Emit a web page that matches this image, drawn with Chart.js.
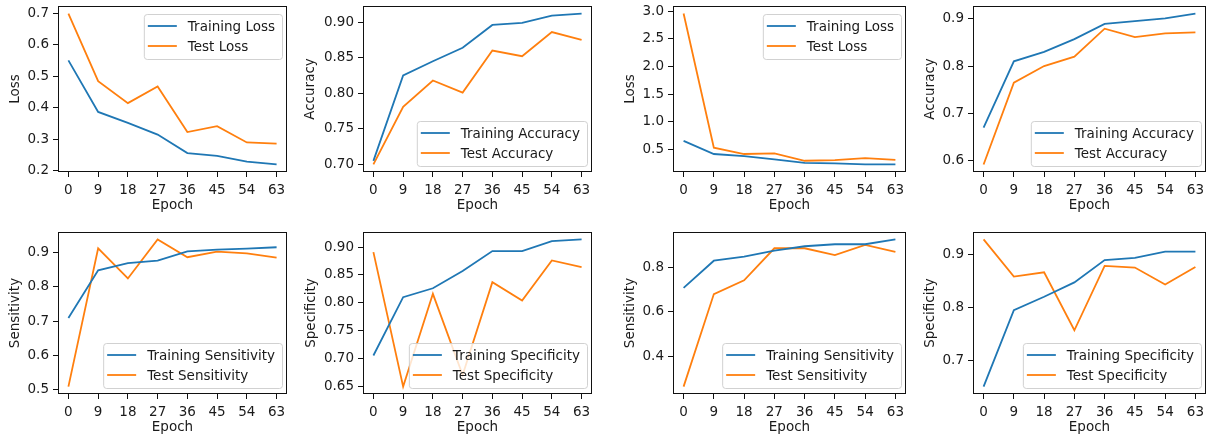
<!DOCTYPE html>
<html><head><meta charset="utf-8">
<script src="https://cdn.jsdelivr.net/npm/chart.js@4/dist/chart.umd.min.js"></script>
<style>
html,body{margin:0;padding:0;background:#fff;width:1210px;height:441px;overflow:hidden;position:relative;}
canvas{position:absolute;}
</style></head><body>
<script>
// ---------- data ----------
const epochs = [0, 9, 18, 27, 36, 45, 54, 63];
const xTickLabels = ['0', '9', '18', '27', '36', '45', '54', '63'];

// Model A
const trainLossA = [0.551, 0.387, 0.352, 0.315, 0.256, 0.247, 0.229, 0.220];
const testLossA  = [0.700, 0.485, 0.415, 0.468, 0.323, 0.342, 0.290, 0.286];
const trainAccA  = [0.705, 0.825, 0.845, 0.864, 0.896, 0.899, 0.909, 0.912];
const testAccA   = [0.700, 0.781, 0.818, 0.801, 0.860, 0.852, 0.886, 0.875];
const trainSensA = [0.709, 0.848, 0.869, 0.876, 0.903, 0.908, 0.911, 0.915];
const testSensA  = [0.509, 0.912, 0.824, 0.938, 0.886, 0.902, 0.897, 0.885];
const trainSpecA = [0.705, 0.810, 0.826, 0.857, 0.893, 0.893, 0.911, 0.914];
const testSpecA  = [0.891, 0.649, 0.816, 0.670, 0.837, 0.804, 0.876, 0.864];

// Model B
const trainLossB = [0.652, 0.415, 0.378, 0.317, 0.256, 0.244, 0.226, 0.226];
const testLossB  = [2.957, 0.530, 0.415, 0.427, 0.293, 0.305, 0.340, 0.310];
const trainAccB  = [0.670, 0.810, 0.830, 0.857, 0.889, 0.895, 0.901, 0.911];
const testAccB   = [0.592, 0.765, 0.800, 0.820, 0.879, 0.861, 0.869, 0.871];
const trainSensB = [0.707, 0.829, 0.847, 0.874, 0.894, 0.903, 0.903, 0.925];
const testSensB  = [0.263, 0.679, 0.741, 0.885, 0.885, 0.854, 0.900, 0.869];
const trainSpecB = [0.651, 0.795, 0.820, 0.847, 0.889, 0.893, 0.905, 0.905];
const testSpecB  = [0.928, 0.858, 0.866, 0.757, 0.878, 0.875, 0.843, 0.876];

// y tick labels
const ticksLossA = ['0.2', '0.3', '0.4', '0.5', '0.6', '0.7'];
const ticksAccA  = ['0.70', '0.75', '0.80', '0.85', '0.90'];
const ticksSensA = ['0.5', '0.6', '0.7', '0.8', '0.9'];
const ticksSpecA = ['0.65', '0.70', '0.75', '0.80', '0.85', '0.90'];
const ticksLossB = ['0.5', '1.0', '1.5', '2.0', '2.5', '3.0'];
const ticksAccB  = ['0.6', '0.7', '0.8', '0.9'];
const ticksSensB = ['0.4', '0.6', '0.8'];
const ticksSpecB = ['0.7', '0.8', '0.9'];

// ---------- layout / styles ----------
const BLUE = '#1f77b4', ORANGE = '#ff7f0e';
const FONT = '"DejaVu Sans", sans-serif';
const FS = 13.5;
const TXT = '#1a1a1a';

const panels = [
  {tr: trainLossA, te: testLossA, name: 'Loss', yTitle: 'Loss', ticks: ticksLossA, leg: 'top', box: {l: 58, t: 6, r: 287, b: 172}, tx: 15},
  {tr: trainAccA, te: testAccA, name: 'Accuracy', yTitle: 'Accuracy', ticks: ticksAccA, leg: 'bottom', box: {l: 363, t: 6, r: 592, b: 172}, tx: 310},
  {tr: trainLossB, te: testLossB, name: 'Loss', yTitle: 'Loss', ticks: ticksLossB, leg: 'top', box: {l: 673, t: 6, r: 906, b: 172}, tx: 630},
  {tr: trainAccB, te: testAccB, name: 'Accuracy', yTitle: 'Accuracy', ticks: ticksAccB, leg: 'bottom', box: {l: 973, t: 6, r: 1206, b: 172}, tx: 930},
  {tr: trainSensA, te: testSensA, name: 'Sensitivity', yTitle: 'Sensitivity', ticks: ticksSensA, leg: 'bottom', box: {l: 58, t: 232, r: 287, b: 394}, tx: 15},
  {tr: trainSpecA, te: testSpecA, name: 'Specificity', yTitle: 'Specificity', ticks: ticksSpecA, leg: 'bottom', box: {l: 363, t: 232, r: 592, b: 394}, tx: 311},
  {tr: trainSensB, te: testSensB, name: 'Sensitivity', yTitle: 'Sensitivity', ticks: ticksSensB, leg: 'bottom', box: {l: 673, t: 232, r: 906, b: 394}, tx: 630},
  {tr: trainSpecB, te: testSpecB, name: 'Specificity', yTitle: 'Specificity', ticks: ticksSpecB, leg: 'bottom', box: {l: 973, t: 232, r: 1206, b: 394}, tx: 930},
];

const PAD_T = 6, PAD_R = 8, XAX_H = 44, TITLE_OFF = 15;

const framePlugin = {
  id: 'frameLegend',
  afterDatasetsDraw(chart, args, opts) {
    const ctx = chart.ctx, a = chart.chartArea;
    ctx.save();
    // frame
    ctx.strokeStyle = '#111';
    ctx.lineWidth = 1;
    ctx.strokeRect(Math.round(a.left) + 0.5, Math.round(a.top) + 0.5,
                   Math.round(a.right - a.left) - 1, Math.round(a.bottom - a.top) - 1);
    // legend
    const ds = chart.data.datasets;
    ctx.font = FS + 'px ' + FONT;
    const textW = Math.max(...ds.map(d => ctx.measureText(d.label).width));
    const padL = 4, handle = 29, gap = 11, padR = 7, rowH = 20, padT = 12;
    const w = padL + handle + gap + textW + padR;
    const h = 45;
    const x = a.right - 5 - w;
    const y = opts.pos === 'top' ? a.top + 8 : a.bottom - 6 - h;
    ctx.beginPath();
    ctx.roundRect(x + 0.5, y + 0.5, w, h, 3);
    ctx.fillStyle = 'rgba(255,255,255,0.8)';
    ctx.fill();
    ctx.strokeStyle = 'rgba(204,204,204,0.9)';
    ctx.lineWidth = 1;
    ctx.stroke();
    ds.forEach((d, i) => {
      const yy = y + padT + i * rowH;
      ctx.beginPath();
      ctx.strokeStyle = d.borderColor;
      ctx.lineWidth = 1.8;
      ctx.moveTo(x + padL, yy);
      ctx.lineTo(x + padL + handle, yy);
      ctx.stroke();
      ctx.fillStyle = TXT;
      ctx.textBaseline = 'middle';
      ctx.textAlign = 'left';
      ctx.fillText(d.label, x + padL + handle + gap, yy + 1);
    });
    ctx.restore();
  }
};

panels.forEach((p) => {
  const left = p.tx - TITLE_OFF;
  const top = p.box.t - PAD_T;
  const yW = p.box.l - left;
  const width = p.box.r + PAD_R - left;
  const height = PAD_T + (p.box.b - p.box.t) + XAX_H;
  const cv = document.createElement('canvas');
  cv.width = width; cv.height = height;
  cv.style.left = left + 'px'; cv.style.top = top + 'px';
  cv.style.width = width + 'px'; cv.style.height = height + 'px';
  document.body.appendChild(cv);

  const all = p.tr.concat(p.te);
  const dmin = Math.min(...all), dmax = Math.max(...all);
  const m = (dmax - dmin) * 0.05;
  const xr = (epochs[epochs.length - 1] - epochs[0]) * 0.05;
  const yTickVals = p.ticks.map(Number);

  new Chart(cv, {
    type: 'line',
    data: {
      datasets: [
        {label: 'Training ' + p.name, data: epochs.map((e, i) => ({x: e, y: p.tr[i]})), borderColor: BLUE, backgroundColor: BLUE},
        {label: 'Test ' + p.name, data: epochs.map((e, i) => ({x: e, y: p.te[i]})), borderColor: ORANGE, backgroundColor: ORANGE},
      ]
    },
    options: {
      responsive: false, animation: false, devicePixelRatio: 1,
      layout: {padding: {top: PAD_T, right: PAD_R, left: 0, bottom: 0}},
      elements: {point: {radius: 0}, line: {borderWidth: 1.8, tension: 0}},
      plugins: {legend: {display: false}, tooltip: {enabled: false}, frameLegend: {pos: p.leg}},
      scales: {
        x: {
          type: 'linear', min: epochs[0] - xr, max: epochs[epochs.length - 1] + xr,
          afterBuildTicks: (s) => { s.ticks = epochs.map(v => ({value: v})); },
          afterFit: (s) => { s.height = XAX_H; s.paddingLeft = 0; s.paddingRight = 0; },
          ticks: {autoSkip: false, maxRotation: 0, padding: 5, color: TXT, font: {family: FONT, size: FS},
                  callback: (v, i) => xTickLabels[i]},
          grid: {drawOnChartArea: false, drawTicks: true, tickLength: 5, tickColor: '#111', tickWidth: 1},
          border: {display: false},
          title: {display: true, text: 'Epoch', color: TXT, font: {family: FONT, size: FS, lineHeight: 1.2}, padding: {top: 0, bottom: 2}}
        },
        y: {
          type: 'linear', min: dmin - m, max: dmax + m,
          afterBuildTicks: (s) => { s.ticks = yTickVals.map(v => ({value: v})); },
          afterFit: (s) => { s.width = yW; s.paddingTop = 0; s.paddingBottom = 0; },
          ticks: {autoSkip: false, padding: 4, color: TXT, font: {family: FONT, size: FS},
                  callback: (v, i) => p.ticks[i]},
          grid: {drawOnChartArea: false, drawTicks: true, tickLength: 5, tickColor: '#111', tickWidth: 1},
          border: {display: false},
          title: {display: true, text: p.yTitle, color: TXT, font: {family: FONT, size: FS, lineHeight: 1.2}, padding: {top: TITLE_OFF - 8.1, bottom: 0}}
        }
      }
    },
    plugins: [framePlugin]
  });
});
</script>
</body></html>
